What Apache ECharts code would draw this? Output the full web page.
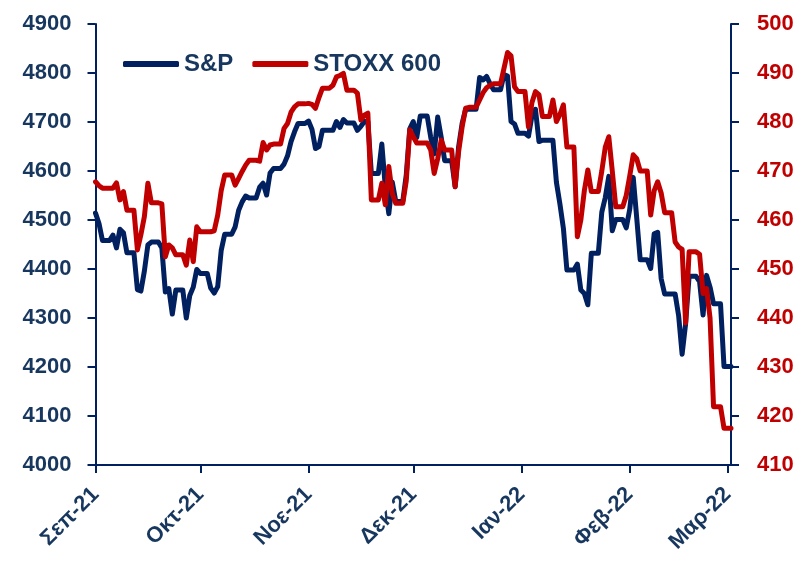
<!DOCTYPE html>
<html>
<head>
<meta charset="utf-8">
<script src="https://cdn.jsdelivr.net/npm/echarts@6/dist/echarts.min.js"></script>
<style>
  html, body { margin: 0; padding: 0; background: #fff; }
  #chart { width: 800px; height: 561px; }
</style>
</head>
<body>
<div id="chart"></div>
<script>
// daily values (calendar days, weekends/holidays carry the last close), from 2021-09-08
const startDate = '2021-09-08'

const sp500 = [
  4514, 4493, 4458, 4458, 4458,
  4469, 4443, 4481, 4474, 4433, 4433, 4433,
  4358, 4355, 4396, 4449, 4455, 4455, 4455,
  4443, 4353, 4360, 4308, 4357, 4357, 4357,
  4300, 4346, 4363, 4399, 4391, 4391, 4391,
  4361, 4351, 4364, 4438, 4471, 4471, 4471,
  4486, 4520, 4537, 4549, 4545, 4545, 4545,
  4567, 4575, 4551, 4596, 4605, 4605, 4605,
  4614, 4631, 4660, 4680, 4697, 4697, 4697,
  4702, 4685, 4646, 4650, 4683, 4683, 4683,
  4683, 4701, 4689, 4705, 4698, 4698, 4698,
  4683, 4691, 4701, 4701, 4595, 4595, 4595,
  4655, 4567, 4513, 4577, 4538, 4538, 4538,
  4592, 4686, 4701, 4668, 4712, 4712, 4712,
  4669, 4635, 4710, 4669, 4621, 4621, 4621,
  4568, 4650, 4697, 4726, 4726, 4726, 4726,
  4791, 4786, 4793, 4778, 4766, 4766, 4766,
  4797, 4794, 4701, 4696, 4677, 4677, 4677,
  4671, 4713, 4726, 4660, 4663, 4663, 4663,
  4663, 4577, 4533, 4483, 4398, 4398, 4398,
  4410, 4357, 4350, 4327, 4432, 4432, 4432,
  4516, 4546, 4589, 4478, 4501, 4501, 4501,
  4484, 4522, 4587, 4504, 4419, 4419, 4419,
  4401, 4472, 4475, 4380, 4349, 4349, 4349,
  4349, 4305, 4226, 4288, 4385, 4385, 4385,
  4374, 4306, 4387, 4363, 4329, 4329, 4329,
  4201, 4201, 4201
]

const stoxx600 = [
  467.8, 467.0, 466.5, 466.5, 466.5,
  466.5, 467.6, 464.1, 465.8, 462.0, 462.0, 462.0,
  453.9, 457.0, 460.7, 467.5, 463.5, 463.5, 463.5,
  463.3, 452.5, 454.9, 454.3, 452.9, 452.9, 452.9,
  450.8, 455.9, 451.5, 458.6, 457.6, 457.6, 457.6,
  457.6, 457.8, 461.0, 466.0, 469.2, 469.2, 469.2,
  467.1, 468.5, 469.9, 471.2, 472.2, 472.2, 472.2,
  472.0, 475.8, 474.3, 475.3, 475.5, 475.5, 475.5,
  478.7, 479.7, 482.0, 483.1, 483.7, 483.7, 483.7,
  483.8, 483.6, 482.8, 485.0, 486.9, 486.9, 486.9,
  487.5, 489.2, 489.5, 489.9, 486.5, 486.5, 486.5,
  485.9, 480.4, 481.4, 481.8, 464.1, 464.1, 464.1,
  467.5, 463.1, 470.9, 465.4, 463.4, 463.4, 463.4,
  468.0, 478.4, 477.0, 475.7, 475.7, 475.7, 475.7,
  474.3, 469.5, 472.5, 476.3, 474.3, 474.3, 474.3,
  466.8, 474.0, 479.0, 482.8, 483.0, 483.0, 483.0,
  484.5, 486.0, 487.0, 487.5, 487.8, 487.8, 487.8,
  491.0, 494.2, 493.5, 487.2, 486.2, 486.2, 486.2,
  479.0, 484.0, 486.2, 485.6, 481.1, 481.1, 481.1,
  484.5, 480.1, 481.5, 483.5, 474.9, 474.9, 474.9,
  456.6, 460.0, 466.0, 470.2, 465.8, 465.8, 465.8,
  470.0, 474.9, 477.0, 470.0, 462.7, 462.7, 462.7,
  465.0, 469.0, 473.3, 472.5, 470.0, 470.0, 470.0,
  461.0, 466.0, 467.8, 465.5, 461.5, 461.5, 461.5,
  455.5, 454.5, 454.0, 439.0, 453.5, 453.5, 453.5,
  453.0, 445.0, 446.0, 440.0, 421.9, 421.9, 421.9,
  417.5, 417.5, 417.5
]

const monthNames = ['Ιαν', 'Φεβ', 'Μαρ', 'Απρ', 'Μαϊ', 'Ιουν', 'Ιουλ', 'Αυγ', 'Σεπ', 'Οκτ', 'Νοε', 'Δεκ']
const seriesNames = ['S&P', 'STOXX 600']

// category labels: one per calendar day
const dates = []
const t0 = Date.parse(startDate + 'T00:00:00Z')
for (let i = 0; i < sp500.length; i++) {
  dates.push(new Date(t0 + i * 86400000).toISOString().slice(0, 10))
}

const navy = '#002060'
const textNavy = '#17375E'
const red = '#C00000'
const font = 'Liberation Sans'

const isMonthTick = (index, value) => value.slice(8, 10) === '08'

const chart = echarts.init(document.getElementById('chart'))

chart.setOption({
  animation: false,
  grid: {
    left: 95.5,
    right: 69,
    top: 24,
    bottom: 96
  },
  legend: {
    left: 118,
    top: 47,
    icon: 'roundRect',
    itemWidth: 56,
    itemHeight: 6,
    itemGap: 19,
    textStyle: {
      fontFamily: font,
      fontWeight: 'bold',
      fontSize: 24,
      color: textNavy
    },
    data: seriesNames
  },
  xAxis: {
    type: 'category',
    data: dates,
    boundaryGap: false,
    axisLine: { lineStyle: { color: navy, width: 2 } },
    axisTick: {
      interval: isMonthTick,
      length: 8,
      lineStyle: { color: navy, width: 2 }
    },
    axisLabel: {
      interval: isMonthTick,
      rotate: 45,
      margin: 26,
      fontFamily: font,
      fontWeight: 'bold',
      fontSize: 22,
      color: textNavy,
      formatter: (v) => monthNames[parseInt(v.slice(5, 7), 10) - 1] + '-' + v.slice(2, 4)
    },
    splitLine: { show: false }
  },
  yAxis: [
    {
      type: 'value',
      position: 'left',
      min: 4000,
      max: 4900,
      interval: 100,
      axisLine: { show: true, lineStyle: { color: navy, width: 2 } },
      axisTick: { show: true, length: 8, lineStyle: { color: navy, width: 2 } },
      axisLabel: {
        margin: 24,
        fontFamily: font,
        fontWeight: 'bold',
        fontSize: 22,
        color: textNavy,
        formatter: (v) => String(v)
      },
      splitLine: { show: false }
    },
    {
      type: 'value',
      position: 'right',
      min: 410,
      max: 500,
      interval: 10,
      axisLine: { show: true, lineStyle: { color: navy, width: 2 } },
      axisTick: { show: true, length: 8, lineStyle: { color: navy, width: 2 } },
      axisLabel: {
        margin: 26,
        fontFamily: font,
        fontWeight: 'bold',
        fontSize: 22,
        color: red,
        formatter: (v) => String(v)
      },
      splitLine: { show: false }
    }
  ],
  series: [
    {
      name: seriesNames[0],
      type: 'line',
      yAxisIndex: 0,
      data: sp500,
      showSymbol: false,
      itemStyle: { color: navy },
      lineStyle: { color: navy, width: 5, cap: 'round', join: 'round' }
    },
    {
      name: seriesNames[1],
      type: 'line',
      yAxisIndex: 1,
      data: stoxx600,
      showSymbol: false,
      itemStyle: { color: red },
      lineStyle: { color: red, width: 5, cap: 'round', join: 'round' }
    }
  ]
})
</script>
</body>
</html>
